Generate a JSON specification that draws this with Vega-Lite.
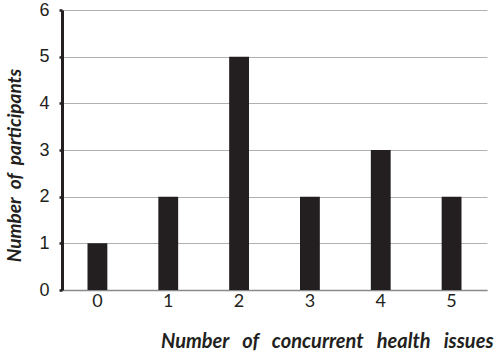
{
  "$schema": "https://vega.github.io/schema/vega-lite/v6.json",
  "autosize": "none",
  "padding": {"left": 62, "top": 10, "right": 11, "bottom": 64},
  "width": 425,
  "height": 280,
  "background": "white",
  "config": {"view": {"stroke": null}},
  "data": {"values": [
    {"issues": "0", "participants": 1},
    {"issues": "1", "participants": 2},
    {"issues": "2", "participants": 5},
    {"issues": "3", "participants": 2},
    {"issues": "4", "participants": 3},
    {"issues": "5", "participants": 2}
  ]},
  "mark": {"type": "bar", "color": "#231f20"},
  "encoding": {
    "x": {
      "field": "issues", "type": "ordinal",
      "scale": {"paddingInner": 0.72, "paddingOuter": 0.36},
      "axis": {
        "title": "Number\u00a0\u00a0 of\u00a0\u00a0 concurrent\u00a0\u00a0 health\u00a0\u00a0 issues",
        "titleFont": "Lato", "titleFontSize": 20, "titleFontWeight": "bold", "titleFontStyle": "italic",
        "titleColor": "#231f20",
        "titleAnchor": "end", "titleAlign": "right", "titleX": 431, "titleY": 57, "titleBaseline": "alphabetic",
        "labelAngle": 0, "labelFont": "Lato", "labelFontSize": 18, "labelColor": "#231f20", "labelPadding": 2,
        "ticks": false, "domainColor": "#8a8a8a", "domainWidth": 1.5
      }
    },
    "y": {
      "field": "participants", "type": "quantitative",
      "scale": {"domain": [0, 6]},
      "axis": {
        "title": "Number\u00a0 of\u00a0 participants",
        "titleFont": "Lato", "titleFontSize": 19, "titleFontWeight": "bold", "titleFontStyle": "italic",
        "titleColor": "#231f20", "titleX": -38, "titleY": 155,
        "values": [0, 1, 2, 3, 4, 5, 6], "format": "d",
        "labelFont": "Liberation Sans", "labelFontSize": 18, "labelColor": "#231f20", "labelPadding": 10,
        "tickSize": 3, "tickWidth": 2.5, "tickColor": "#231f20",
        "domainColor": "#231f20", "domainWidth": 3,
        "grid": true, "gridColor": "#b0b0b0", "gridWidth": 1
      }
    }
  }
}
